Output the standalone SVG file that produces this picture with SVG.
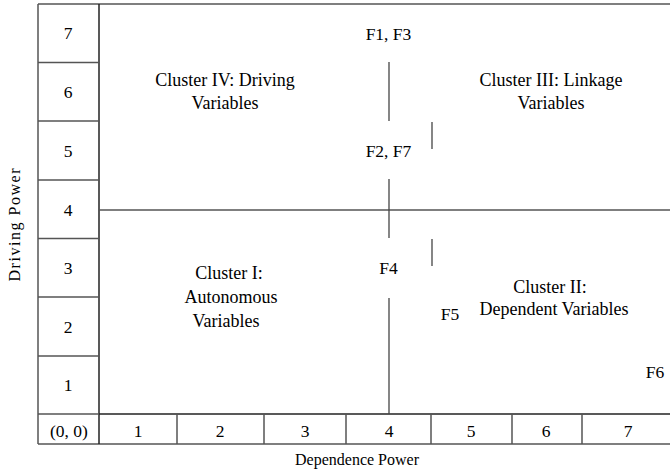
<svg xmlns="http://www.w3.org/2000/svg" width="670" height="472" viewBox="0 0 670 472">
  <style>
    .grid { stroke: #555; stroke-width: 1.5; fill: none; }
    .dark { stroke: #222; stroke-width: 1.5; fill: none; }
    .seg { stroke: #444; stroke-width: 1.3; fill: none; }
    text { font-family: "Liberation Serif", "Times New Roman", serif; font-size: 17.5px; fill: #000; text-anchor: middle; }
    .cl { font-size: 18px; }
    .axis { font-size: 16px; }
  </style>
  <rect width="670" height="472" fill="#fff"/>

  <!-- outer frame and axis scales -->
  <g id="frame">
    <line class="grid" x1="38" y1="4" x2="670" y2="4"/>
    <line class="grid" x1="38" y1="4" x2="38" y2="444"/>
    <line class="grid" x1="38" y1="444" x2="670" y2="444"/>
    <line class="dark" x1="99" y1="4" x2="99" y2="444"/>
    <line class="dark" x1="99" y1="414" x2="670" y2="414"/>
    <line class="grid" x1="38" y1="414" x2="99" y2="414"/>
    <!-- driving power rows -->
    <line class="grid" x1="38" y1="62.5" x2="99" y2="62.5"/>
    <line class="grid" x1="38" y1="121" x2="99" y2="121"/>
    <line class="grid" x1="38" y1="180" x2="99" y2="180"/>
    <line class="grid" x1="38" y1="238.5" x2="99" y2="238.5"/>
    <line class="grid" x1="38" y1="297" x2="99" y2="297"/>
    <line class="grid" x1="38" y1="356" x2="99" y2="356"/>
    <!-- dependence power columns -->
    <line class="grid" x1="177" y1="414" x2="177" y2="444"/>
    <line class="grid" x1="264" y1="414" x2="264" y2="444"/>
    <line class="grid" x1="346" y1="414" x2="346" y2="444"/>
    <line class="grid" x1="431" y1="414" x2="431" y2="444"/>
    <line class="grid" x1="512" y1="414" x2="512" y2="444"/>
    <line class="grid" x1="582" y1="414" x2="582" y2="444"/>
  </g>

  <g id="row-labels">
    <text x="68" y="39">7</text>
    <text x="68" y="98">6</text>
    <text x="68" y="157">5</text>
    <text x="68" y="216">4</text>
    <text x="68" y="274">3</text>
    <text x="68" y="333">2</text>
    <text x="68" y="391">1</text>
  </g>

  <g id="col-labels">
    <text x="69" y="437">(0, 0)</text>
    <text x="138" y="437">1</text>
    <text x="220" y="437">2</text>
    <text x="305" y="437">3</text>
    <text x="389" y="437">4</text>
    <text x="471" y="437">5</text>
    <text x="546" y="437">6</text>
    <text x="628" y="437">7</text>
  </g>

  <!-- quadrant dividers -->
  <g id="connectors">
    <line class="grid" x1="99" y1="210" x2="670" y2="210"/>
    <line class="seg" x1="389" y1="62" x2="389" y2="121"/>
    <line class="seg" x1="389" y1="179" x2="389" y2="238"/>
    <line class="seg" x1="389" y1="298" x2="389" y2="414"/>
    <line class="seg" x1="432" y1="122" x2="432" y2="149"/>
    <line class="seg" x1="432" y1="239" x2="432" y2="266"/>
  </g>

  <g id="cluster-iv">
    <text class="cl" x="225" y="86">Cluster IV: Driving</text>
    <text class="cl" x="225" y="109">Variables</text>
  </g>
  <g id="cluster-iii">
    <text class="cl" x="551" y="86">Cluster III: Linkage</text>
    <text class="cl" x="551" y="109">Variables</text>
  </g>
  <g id="cluster-i">
    <text class="cl" x="229" y="279">Cluster I:</text>
    <text class="cl" x="231" y="303">Autonomous</text>
    <text class="cl" x="226" y="327">Variables</text>
  </g>
  <g id="cluster-ii">
    <text class="cl" x="550" y="293">Cluster II:</text>
    <text class="cl" x="554" y="315">Dependent Variables</text>
  </g>

  <g id="factors">
    <text x="388.5" y="40">F1, F3</text>
    <text x="388.5" y="157">F2, F7</text>
    <text x="388.5" y="274">F4</text>
    <text x="450" y="320">F5</text>
    <text x="655" y="378">F6</text>
  </g>

  <g id="axis-titles">
    <text class="axis" x="357" y="465">Dependence Power</text>
    <text class="axis" transform="translate(20,225) rotate(-90)" textLength="113" lengthAdjust="spacing">Driving Power</text>
  </g>
</svg>
